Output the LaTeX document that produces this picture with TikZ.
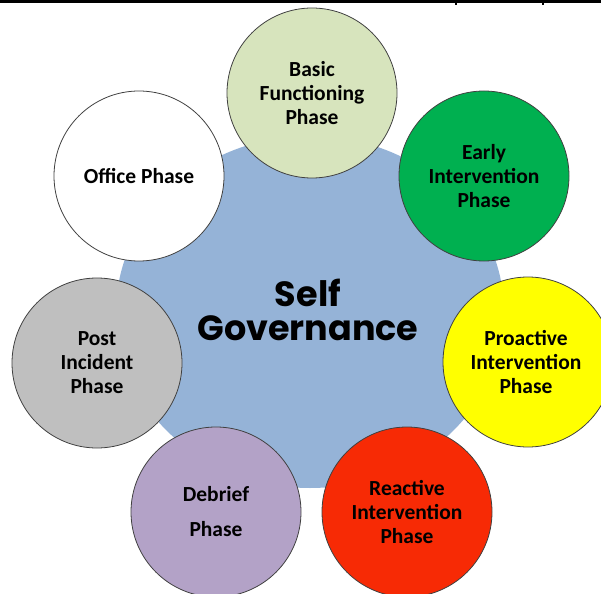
\documentclass[tikz,border=0pt]{standalone}
\usepackage{fontspec}
\setmainfont{Carlito}
\newfontfamily\titlefont{Poppins}
\definecolor{govblue}{HTML}{95B3D7}
\definecolor{basicgreen}{HTML}{D7E4BD}
\definecolor{earlygreen}{HTML}{00B050}
\definecolor{proyellow}{HTML}{FFFF00}
\definecolor{reactred}{HTML}{F72A05}
\definecolor{debriefpurple}{HTML}{B3A2C7}
\definecolor{postgray}{HTML}{BFBFBF}

\begin{document}
\begin{tikzpicture}[x=1pt,y=-1pt,
    phase/.style={circle,draw=black!75,line width=0.8pt,minimum size=170pt,inner sep=0pt,
        align=center,font=\fontsize{21.5}{24}\selectfont\bfseries}]
    \useasboundingbox (0,0) rectangle (601,593);
    \clip (0,0) rectangle (601,593);

    % rule at the top of the page
    \fill [black] (0,0) rectangle (601,3.5);
    \fill [black] (455,3) rectangle (457,5.5);
    \fill [black] (542,3) rectangle (544,5.5);

    % centre
    \fill [govblue] (310,312) ellipse [x radius=194,y radius=176];
    \node[align=center,font=\titlefont\bfseries\fontsize{35}{34}\selectfont] (self) at (308,310) {Self\\Governance};

    % phases
    \node[phase,fill=basicgreen] (basic) at (312,93) {Basic\\Functioning\\Phase};
    \node[phase,fill=earlygreen] (early) at (484,176) {Early\\Intervention\\Phase};
    \node[phase,fill=proyellow] (proactive) at (528,362) {\hspace*{-4pt}Proactive\\\hspace*{-4pt}Intervention\\\hspace*{-4pt}Phase};
    \node[phase,fill=reactred] (reactive) at (407,512) {Reactive\\Intervention\\Phase};
    \node[phase,fill=debriefpurple] (debrief) at (216,512) {Debrief\\[11pt]Phase};
    \node[phase,fill=postgray] (post) at (97,363) {Post\\Incident\\Phase};
    \node[phase,fill=white] (office) at (139,176) {Office Phase};
\end{tikzpicture}
\end{document}
